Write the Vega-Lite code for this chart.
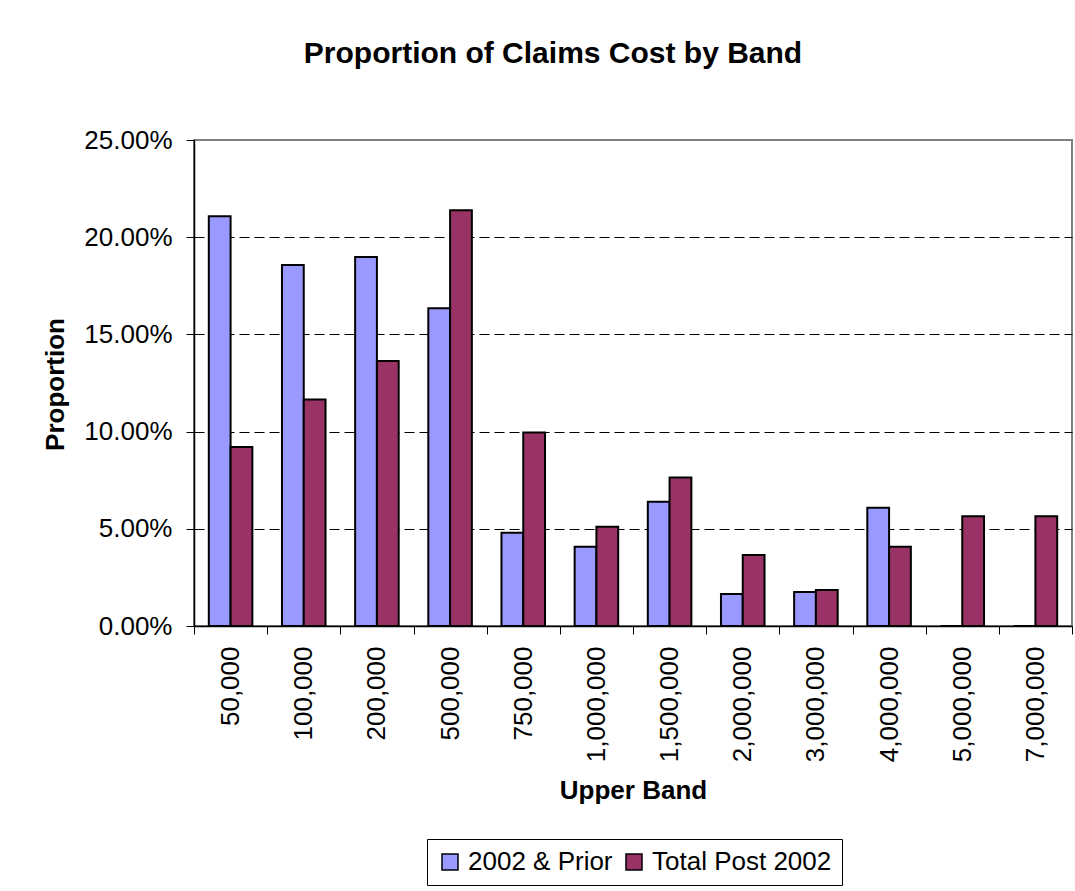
{
  "$schema": "https://vega.github.io/schema/vega-lite/v6.json",
  "width": 878,
  "height": 486,
  "autosize": {"type": "none"},
  "padding": {"left": 194, "top": 140, "right": 3, "bottom": 265},
  "background": "white",
  "title": {
    "text": "Proportion of Claims Cost by Band",
    "fontSize": 30,
    "font": "Liberation Sans",
    "fontWeight": "bold",
    "color": "black",
    "anchor": "middle",
    "dx": -80,
    "offset": 58
  },
  "data": {
    "values": [
      {"band": "50,000", "series": "2002 & Prior", "value": 0.2108},
      {"band": "50,000", "series": "Total Post 2002", "value": 0.0921},
      {"band": "100,000", "series": "2002 & Prior", "value": 0.1857},
      {"band": "100,000", "series": "Total Post 2002", "value": 0.1165},
      {"band": "200,000", "series": "2002 & Prior", "value": 0.1898},
      {"band": "200,000", "series": "Total Post 2002", "value": 0.1363},
      {"band": "500,000", "series": "2002 & Prior", "value": 0.1634},
      {"band": "500,000", "series": "Total Post 2002", "value": 0.2139},
      {"band": "750,000", "series": "2002 & Prior", "value": 0.0480},
      {"band": "750,000", "series": "Total Post 2002", "value": 0.0995},
      {"band": "1,000,000", "series": "2002 & Prior", "value": 0.0408},
      {"band": "1,000,000", "series": "Total Post 2002", "value": 0.0510},
      {"band": "1,500,000", "series": "2002 & Prior", "value": 0.0639},
      {"band": "1,500,000", "series": "Total Post 2002", "value": 0.0764},
      {"band": "2,000,000", "series": "2002 & Prior", "value": 0.0164},
      {"band": "2,000,000", "series": "Total Post 2002", "value": 0.0365},
      {"band": "3,000,000", "series": "2002 & Prior", "value": 0.0175},
      {"band": "3,000,000", "series": "Total Post 2002", "value": 0.0185},
      {"band": "4,000,000", "series": "2002 & Prior", "value": 0.0608},
      {"band": "4,000,000", "series": "Total Post 2002", "value": 0.0408},
      {"band": "5,000,000", "series": "2002 & Prior", "value": 0},
      {"band": "5,000,000", "series": "Total Post 2002", "value": 0.0565},
      {"band": "7,000,000", "series": "2002 & Prior", "value": 0},
      {"band": "7,000,000", "series": "Total Post 2002", "value": 0.0565}
    ]
  },
  "mark": {"type": "bar", "stroke": "black", "strokeWidth": 2},
  "encoding": {
    "x": {
      "field": "band",
      "type": "nominal",
      "sort": null,
      "scale": {"paddingInner": 0, "paddingOuter": 0},
      "axis": {
        "title": "Upper Band",
        "titleFontSize": 26,
        "titleFont": "Liberation Sans",
        "titleFontWeight": "bold",
        "titleColor": "black",
        "titleY": 164,
        "titleBaseline": "middle",
        "tickBand": "extent",
        "labelAngle": 270,
        "labelAlign": "right",
        "labelBaseline": "middle",
        "labelFontSize": 26,
        "labelFont": "Liberation Sans",
        "labelColor": "black",
        "labelPadding": 12,
        "tickSize": 8,
        "tickColor": "black",
        "domainColor": "black",
        "domainWidth": 1.5,
        "grid": false
      }
    },
    "xOffset": {
      "field": "series",
      "type": "nominal",
      "scale": {"paddingInner": 0, "paddingOuter": 0.68}
    },
    "y": {
      "field": "value",
      "type": "quantitative",
      "scale": {"domain": [0, 0.25], "nice": false},
      "axis": {
        "title": "Proportion",
        "titleFontSize": 26,
        "titleFont": "Liberation Sans",
        "titleFontWeight": "bold",
        "titleColor": "black",
        "titleX": -139,
        "titleY": 244,
        "titleAngle": 270,
        "titleAlign": "center",
        "titleBaseline": "middle",
        "values": [0, 0.05, 0.1, 0.15, 0.2, 0.25],
        "format": ".2%",
        "labelFontSize": 26,
        "labelFont": "Liberation Sans",
        "labelColor": "black",
        "labelPadding": 14,
        "tickSize": 8,
        "tickColor": "black",
        "domainColor": "black",
        "domainWidth": 1.5,
        "grid": true,
        "gridColor": {"condition": {"test": "datum.value >= 0.25", "value": "#808080"}, "value": "black"},
        "gridDash": [10, 5],
        "gridWidth": 1
      }
    },
    "color": {
      "field": "series",
      "type": "nominal",
      "scale": {"domain": ["2002 & Prior", "Total Post 2002"], "range": ["#9999FF", "#993366"]},
      "legend": {
        "title": null,
        "orient": "none",
        "legendX": 233,
        "legendY": 699,
        "direction": "horizontal",
        "strokeColor": "black",
        "padding": 10,
        "symbolType": "square",
        "symbolSize": 256,
        "symbolStrokeColor": "black",
        "symbolStrokeWidth": 1.5,
        "labelFontSize": 26,
        "labelFont": "Liberation Sans",
        "labelColor": "black",
        "labelOffset": 5,
        "columnPadding": 8,
        "labelLimit": 400
      }
    }
  },
  "config": {
    "view": {"stroke": "#808080", "strokeWidth": 2}
  }
}
